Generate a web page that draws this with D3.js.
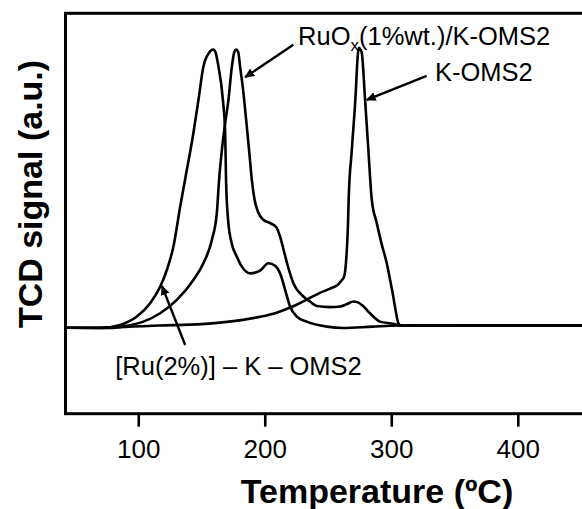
<!DOCTYPE html>
<html>
<head>
<meta charset="utf-8">
<script src="https://cdn.jsdelivr.net/npm/d3@7"></script>
<style>
  body { margin: 0; background: #fff; }
  svg text { font-family: "Liberation Sans", Arial, sans-serif; fill: #000; }
</style>
</head>
<body>
<div id="chart"></div>
<script>
// TPR profiles: [temperature (ºC), TCD signal (a.u.)]
const kOms2 = [
  [42.5,-0.3],[80,-0.1],[117,0.5],[150,1.0],[170,1.8],[196,3.6],[210,5.2],[222,7.3],
  [235,10.2],[244,12.3],[252,13.8],[258,15.2],[261,16.8],[262.7,18],[264,22],[265,28.7],
  [265.8,37],[266.3,45.5],[268.8,63.4],[271.6,81.4],[273.7,98.2],[274.5,100],[275.5,99.5],
  [276.7,98.2],[279.3,81.4],[281.9,63.4],[284.6,45.5],[288.5,37.3],[292.5,29.5],[296.4,22.9],
  [299,17],[301.6,10.8],[303.8,5],[305.6,1.4],[307.5,0.6],[320,0.5],[400,0.5],[480,0.4]
];

const ruOx1 = [
  [42.5,-0.3],[77.8,-0.4],[91,0.4],[104.1,1.9],[117.3,4.9],[130.5,9.7],[143.6,16.8],
  [151.5,22.8],[158.2,31.2],[162.1,40.8],[163.9,52.7],[166.1,63.4],[168.7,73],[171.3,81.4],
  [174,93.3],[176,98.6],[177.4,99.4],[179,98.5],[180.5,93.3],[182.9,84.9],[185.3,74.2],
  [187.6,63.4],[189.8,52.7],[192,45.5],[194.7,41.2],[198.9,38.4],[204.2,37.2],[209,35.8],
  [212.1,32.4],[215.3,26.9],[218,22.2],[222.6,15.7],[230.5,10.9],[235.8,9.1],[241.1,7.5],
  [251.6,7.1],[259.5,7.3],[265,8.2],[270,9.1],[273.7,8.8],[277.7,7.5],[283.2,4.9],
  [291.1,1.9],[301.6,1.1],[306.9,0.5],[400,0.6],[480,0.5]
];

const ru2 = [
  [42.5,-0.3],[69.9,-0.4],[85.7,0.7],[98.9,3.7],[109.4,8.5],[117.3,14.4],[122.6,20.4],
  [127.8,28.8],[133.1,43],[137.5,54],[143.6,69.5],[147.6,81.4],[151.5,93.3],[156,98.3],
  [159.4,99.4],[161,98.5],[163.4,93.3],[166.9,81.4],[168.7,69.5],[169.4,52.7],[171,38.4],
  [174.2,29.4],[177.9,25.2],[181.9,21.6],[188.4,19.2],[196.3,20.2],[202.9,22.8],[208.2,21.9],
  [212.1,19.2],[216.1,13.3],[220,7.3],[225.3,3.7],[233.2,1.9],[249,0.1],[261.9,-0.4],
  [285,0.1],[306,0.5],[400,0.5],[480,0.6]
];

const series = [kOms2, ruOx1, ru2];
const xTicks = [100, 200, 300, 400];

// labels and arrows, in data units: text anchor, arrow start -> arrow tip
const notes = [
  { text: "RuO", sub: "x", rest: "(1%wt.)/K-OMS2", at: [226.3, 101.1], from: [222.6, 101.1], to: [184.5, 89.5] },
  { text: "K-OMS2", at: [334.5, 88.2], from: [328, 90], to: [280.6, 81.4] },
  { text: "[Ru(2%)] \u2013 K \u2013 OMS2", at: [81.8, -17.2], from: [137.1, -6.5], to: [118.7, 14.7] }
];

const W = 582, H = 509;
const frame = { left: 65.5, top: 13.3, bottom: 413.7, right: 619 };

const svg = d3.select("#chart").append("svg")
  .attr("width", W)
  .attr("height", H);

const x = d3.scaleLinear().domain([42.5, 480]).range([frame.left, frame.right]);
const y = d3.scaleLinear().domain([-31.1, 112.4]).range([frame.bottom, frame.top]);

svg.append("defs").append("marker")
  .attr("id", "head")
  .attr("viewBox", "0 0 10 10")
  .attr("refX", 9).attr("refY", 5)
  .attr("markerWidth", 10).attr("markerHeight", 10)
  .attr("markerUnits", "userSpaceOnUse")
  .attr("orient", "auto")
  .append("path")
    .attr("d", "M0,0.5 L10,5 L0,9.5 Z")
    .attr("fill", "#000");

// curves
const line = d3.line()
  .x(d => x(d[0]))
  .y(d => y(d[1]))
  .curve(d3.curveMonotoneX);

svg.append("g")
  .selectAll("path")
  .data(series)
  .enter()
  .append("path")
    .attr("d", line)
    .attr("fill", "none")
    .attr("stroke", "#000")
    .attr("stroke-width", 2.6)
    .attr("stroke-linejoin", "round");

// frame (right edge falls outside the picture)
svg.append("rect")
  .attr("x", frame.left)
  .attr("y", frame.top)
  .attr("width", frame.right - frame.left)
  .attr("height", frame.bottom - frame.top)
  .attr("fill", "none")
  .attr("stroke", "#000")
  .attr("stroke-width", 3);

// x axis
const xAxis = svg.append("g")
  .attr("transform", `translate(0,${frame.bottom})`)
  .call(d3.axisBottom(x).tickValues(xTicks).tickSize(13).tickPadding(13).tickFormat(d3.format("d")));
xAxis.select(".domain").remove();
xAxis.selectAll(".tick line").attr("stroke-width", 2.6);
xAxis.selectAll(".tick text")
  .style("font-family", "'Liberation Sans', Arial, sans-serif")
  .style("font-size", "26px");

// axis titles
svg.append("text")
  .attr("x", 377)
  .attr("y", 503)
  .attr("text-anchor", "middle")
  .style("font-size", "34px")
  .style("font-weight", "bold")
  .text("Temperature (\u00baC)");

svg.append("text")
  .attr("transform", `translate(42,194) rotate(-90)`)
  .attr("text-anchor", "middle")
  .style("font-size", "34px")
  .style("font-weight", "bold")
  .text("TCD signal (a.u.)");

// annotations
svg.append("g")
  .selectAll("line")
  .data(notes)
  .enter()
  .append("line")
    .attr("x1", d => x(d.from[0]))
    .attr("y1", d => y(d.from[1]))
    .attr("x2", d => x(d.to[0]))
    .attr("y2", d => y(d.to[1]))
    .attr("stroke", "#000")
    .attr("stroke-width", 2.4)
    .attr("marker-end", "url(#head)");

notes.forEach(n => {
  const t = svg.append("text")
    .attr("x", x(n.at[0]))
    .attr("y", y(n.at[1]))
    .style("font-size", "25.5px");
  t.append("tspan").text(n.text);
  if (n.sub) {
    t.append("tspan").attr("dy", 6).style("font-size", "17px").text(n.sub);
    t.append("tspan").attr("dy", -6).text(n.rest);
  }
});
</script>
</body>
</html>
